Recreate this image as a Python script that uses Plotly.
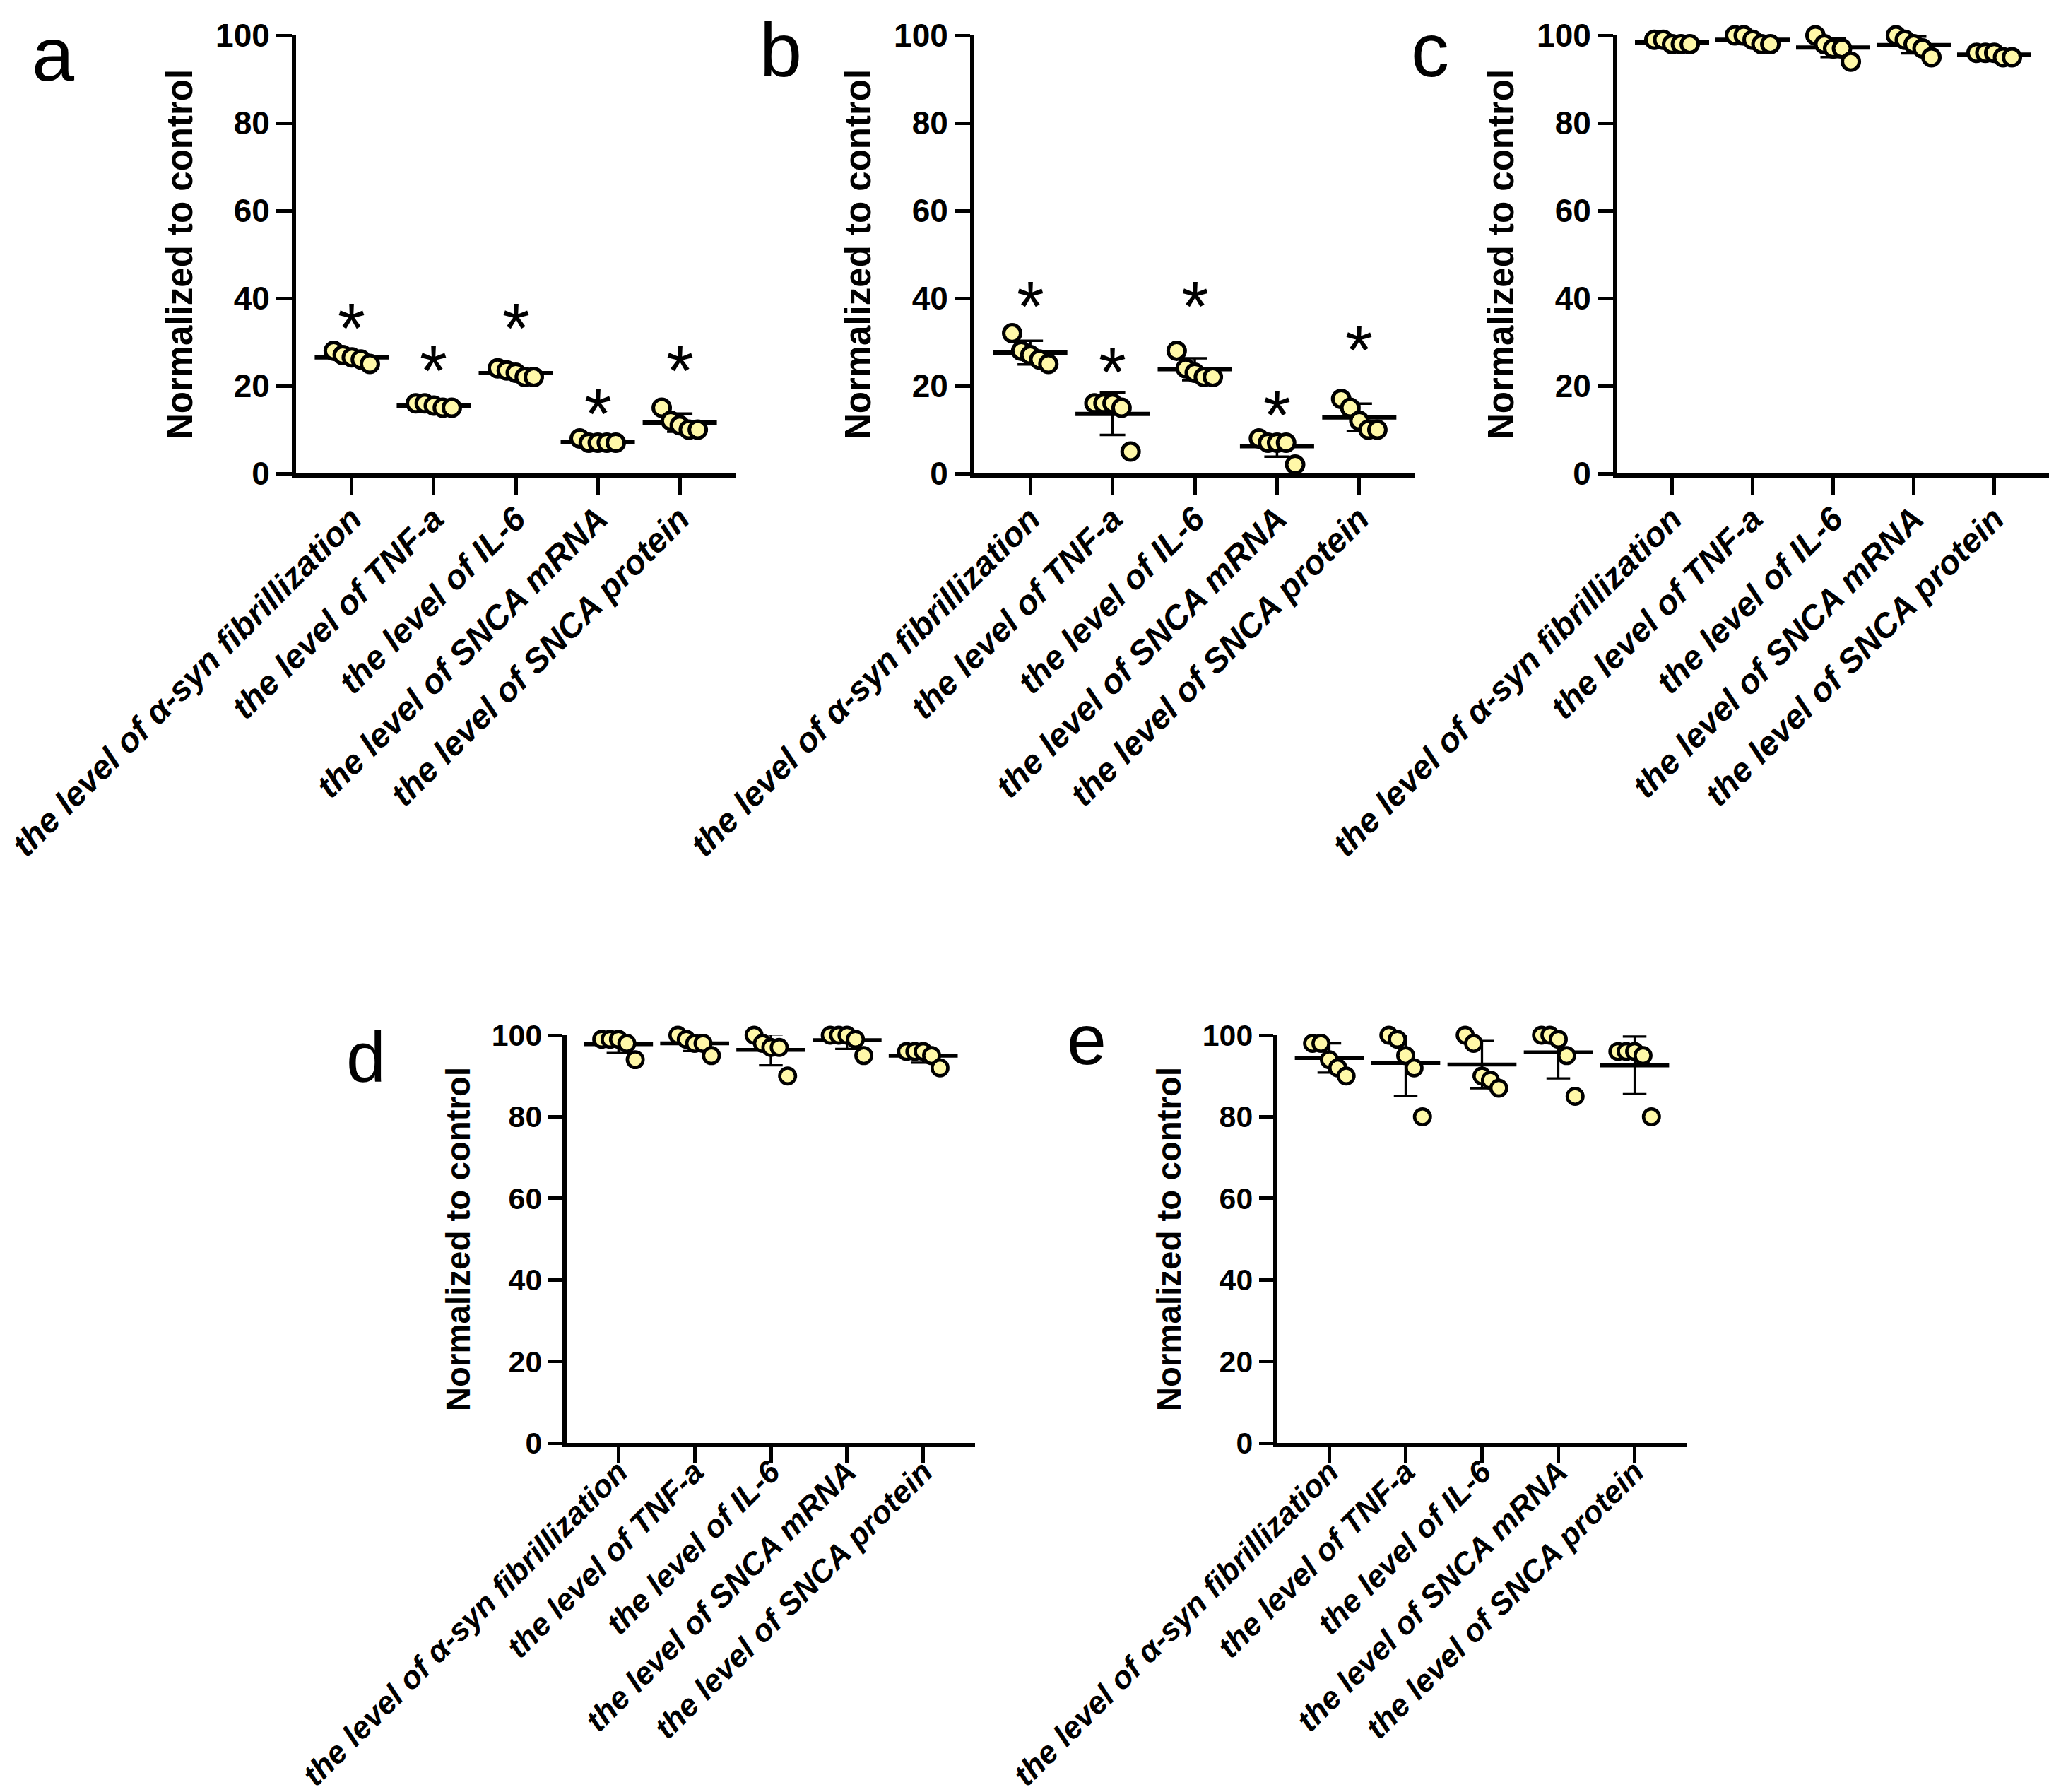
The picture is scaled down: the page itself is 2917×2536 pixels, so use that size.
import numpy as np
import plotly.graph_objects as go

labels = ["the level of α-syn fibrillization", "the level of TNF-a", "the level of IL-6",
          "the level of SNCA mRNA", "the level of SNCA protein"]
y_ticks = [0, 20, 40, 60, 80, 100]

# each panel: five groups, five replicates (normalized to control, %)
panel_a = [[28, 27, 26.5, 26, 25], [16, 16, 15.5, 15, 15], [24, 23.5, 23, 22, 22],
           [8, 7, 7, 7, 7], [15, 12, 11, 10, 10]]
panel_b = [[32, 28, 27, 26, 25], [16, 16, 16, 15, 5], [28, 24, 23, 22, 22],
           [8, 7, 7, 7, 2], [17, 15, 12, 10, 10]]
panel_c = [[99, 99, 98, 98, 98], [100, 100, 99, 98, 98], [100, 98, 97, 97, 94],
           [100, 99, 98, 97, 95], [96, 96, 96, 95, 95]]
panel_d = [[99, 99, 99, 98, 94], [100, 99, 98, 98, 95], [100, 98, 97, 97, 90],
           [100, 100, 100, 99, 95], [96, 96, 96, 95, 92]]
panel_e = [[98, 98, 94, 92, 90], [100, 99, 95, 92, 80], [100, 98, 90, 89, 87],
           [100, 100, 99, 95, 85], [96, 96, 96, 95, 80]]

# height of the significance asterisks
stars_a = [35, 25.4, 35, 15.5, 25.4]
stars_b = [40, 25, 40, 15.2, 30]

W, H = 2917, 2536
FILL = "#FFF8A8"
FONT = "Liberation Sans, Arial"

# panel name, data, stars, x px (left, right), y px (top, bottom), scale,
# letter pos (x, y, anchor), tick label standoff
panels = [
    ("a", panel_a, stars_a, (411, 1033), (42, 662), 1.0, (67, 131, "bottom"), -14),
    ("b", panel_b, stars_b, (1371, 1995), (42, 662), 1.0, (1097, 125, "bottom"), -14),
    ("c", panel_c, None, (2281, 2892), (42, 662), 1.0, (2016, 0, "top"), -14),
    ("d", panel_d, None, (794, 1372), (1457, 2034), 0.93, (510, 1546, "bottom"), -32),
    ("e", panel_e, None, (1800, 2379), (1457, 2034), 0.93, (1530, 1521, "bottom"), -32),
]

fig = go.Figure()
annotations = []
layout = {}

for k, (name, data, stars, (px0, px1), (py0, py1), s, (lx, ly, lanc), lso) in enumerate(panels):
    xa = "x" if k == 0 else "x%d" % (k + 1)
    ya = "y" if k == 0 else "y%d" % (k + 1)

    for i, vals in enumerate(data):
        vals = np.array(vals, dtype=float)
        mean = vals.mean()
        sd = vals.std(ddof=1)
        # mean line + SD bar
        fig.add_trace(go.Scatter(
            x=[i], y=[mean], mode="markers", xaxis=xa, yaxis=ya, showlegend=False,
            marker=dict(symbol="line-ew", size=75 * s, color="black",
                        line=dict(width=6 * s, color="black")),
            error_y=dict(type="data", array=[sd], color="black",
                         thickness=3.5 * s, width=18 * s),
            cliponaxis=False))
        # scatter the replicates, higher values to the left
        order = np.argsort(-vals, kind="stable")
        offs = np.linspace(-0.22, 0.22, len(vals))
        xs = np.empty(len(vals))
        xs[order] = i + offs
        fig.add_trace(go.Scatter(
            x=xs, y=vals, mode="markers", xaxis=xa, yaxis=ya, showlegend=False,
            marker=dict(symbol="circle", size=24 * s, color=FILL,
                        line=dict(width=5 * s, color="black")),
            cliponaxis=False))

    if stars:
        for i, sy in enumerate(stars):
            annotations.append(dict(x=i, y=sy, xref=xa, yref=ya, text="*", showarrow=False,
                                    yshift=-11, font=dict(family=FONT, size=100,
                                                          color="black")))

    annotations.append(dict(x=lx / W, y=1 - ly / H, xref="paper", yref="paper", text=name,
                            showarrow=False, xanchor="center", yanchor=lanc,
                            font=dict(family=FONT, size=108 * s, color="black")))

    layout["xaxis" if k == 0 else "xaxis%d" % (k + 1)] = dict(
        domain=[px0 / W, px1 / W], anchor=ya, range=[-0.68, 4.68], automargin=False,
        tickvals=list(range(len(labels))), ticktext=labels, tickangle=-45,
        ticklabeloverflow="allow", ticklabelstandoff=lso,
        ticks="outside", ticklen=25 * s, tickwidth=5 * s, tickcolor="black",
        showline=True, linewidth=6 * s, linecolor="black", showgrid=False, zeroline=False,
        tickfont=dict(family=FONT, size=48 * s, color="black",
                      weight="bold", style="italic"))
    layout["yaxis" if k == 0 else "yaxis%d" % (k + 1)] = dict(
        domain=[1 - py1 / H, 1 - py0 / H], anchor=xa, range=[0, 100], tickvals=y_ticks,
        automargin=False,
        ticks="outside", ticklen=22 * s, tickwidth=5 * s, tickcolor="black",
        showline=True, linewidth=6 * s, linecolor="black", showgrid=False, zeroline=False,
        tickfont=dict(family=FONT, size=46 * s, color="black", weight="bold"),
        title=dict(text="Normalized to control", standoff=18 * s,
                   font=dict(family=FONT, size=51 * s, color="black", weight="bold")))

fig.update_layout(width=W, height=H, margin=dict(l=0, r=0, t=0, b=0),
                  paper_bgcolor="white", plot_bgcolor="white",
                  annotations=annotations, **layout)

fig.write_html("out.html")
